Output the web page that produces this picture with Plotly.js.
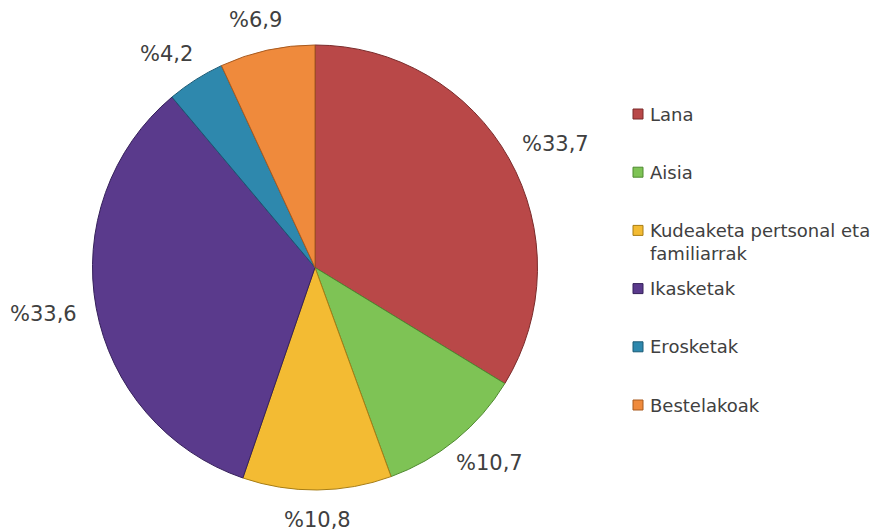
<!DOCTYPE html>
<html>
<head>
<meta charset="utf-8">
<script src="https://cdn.plot.ly/plotly-3.0.1.min.js"></script>
<style>html,body{margin:0;padding:0;background:#fff;}#chart{width:879px;height:531px;}</style>
</head>
<body>
<div id="chart"></div>
<script>
const categories = ["Lana", "Aisia", "Kudeaketa pertsonal eta<br>familiarrak", "Ikasketak", "Erosketak", "Bestelakoak"];
const values = [33.7, 10.7, 10.8, 33.6, 4.2, 6.9];
const valueLabels = ["%33,7", "%10,7", "%10,8", "%33,6", "%4,2", "%6,9"];
const colors = ["#b94848", "#7ec355", "#f3bb33", "#5a3a8c", "#2e88ad", "#ef8a3c"];
const borderColors = ["#7a2b2b", "#4f8a30", "#a77d14", "#35205a", "#1b5a75", "#a85a1f"];

const font = "DejaVu Sans, Verdana, sans-serif";
const W = 879, H = 531;
const pieLeft = 92, pieRight = 538, pieTop = 45, pieBottom = 490;

const trace = {
  type: "pie",
  labels: categories,
  values: values,
  text: valueLabels,
  textinfo: "none",
  sort: false,
  direction: "clockwise",
  rotation: 0,
  marker: {colors: colors, line: {color: borderColors, width: 1}},
  domain: {x: [pieLeft/W, pieRight/W], y: [1 - pieBottom/H, 1 - pieTop/H]},
  showlegend: false,
  hoverinfo: "label+text"
};

const annotations = [];
const shapes = [];

// Value labels placed outside each slice, at the slice's mid-angle
const cx = (pieLeft + pieRight) / 2, cy = (pieTop + pieBottom) / 2, R = (pieRight - pieLeft) / 2;
const total = values.reduce((a, b) => a + b, 0);
let cum = 0;
values.forEach((v, i) => {
  const mid = (cum + v / 2) / total * 2 * Math.PI;
  cum += v;
  const s = Math.sin(mid), c = -Math.cos(mid);
  const d = R + 19;
  const px = cx + d * s + 34 * s;
  const py = cy + d * c + 11 * c;
  annotations.push({
    xref: "paper", yref: "paper", x: px / W, y: 1 - py / H,
    xanchor: "center", yanchor: "middle", showarrow: false,
    text: valueLabels[i], font: {family: font, size: 21, color: "#404040"}
  });
});

// Legend built from the category and colour arrays
const legendTop = 114, legendStep = 58.2;
categories.forEach((c, i) => {
  const yc = legendTop + i * legendStep;
  annotations.push({
    xref: "paper", yref: "paper", x: 648 / W, y: 1 - (yc - 12.5) / H,
    xanchor: "left", yanchor: "top", align: "left", showarrow: false,
    text: c, font: {family: font, size: 18, color: "#404040"}
  });
  shapes.push({
    type: "rect", xref: "paper", yref: "paper",
    x0: 633 / W, x1: 643 / W, y0: 1 - (yc - 5) / H, y1: 1 - (yc + 5) / H,
    fillcolor: colors[i], line: {color: borderColors[i], width: 1}
  });
});

const layout = {
  width: W, height: H,
  margin: {l: 0, r: 0, t: 0, b: 0},
  paper_bgcolor: "#ffffff",
  showlegend: false,
  annotations: annotations,
  shapes: shapes,
  font: {family: font}
};

Plotly.newPlot("chart", [trace], layout, {displayModeBar: false, staticPlot: true});
</script>
</body>
</html>
